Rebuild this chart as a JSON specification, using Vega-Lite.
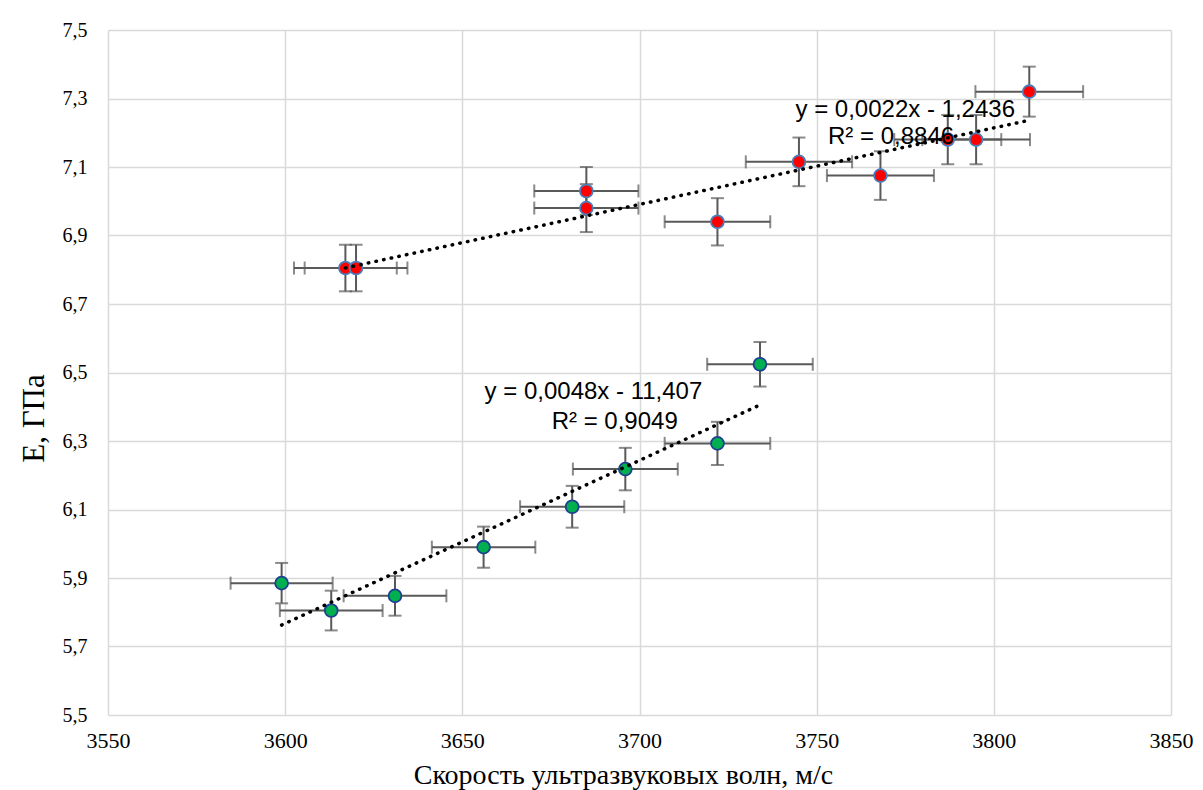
{
  "$schema": "https://vega.github.io/schema/vega-lite/v6.json",
  "width": 1063,
  "height": 685,
  "autosize": {"type": "none"},
  "padding": {"left": 108, "top": 30, "right": 32, "bottom": 75},
  "background": "#ffffff",
  "config": {
    "view": {"stroke": null},
    "font": "Liberation Serif"
  },
  "datasets": {
    "pts": [
      {"s": "red", "v": 3617, "E": 6.805, "ve": 14.5, "Ee": 0.068},
      {"s": "red", "v": 3620, "E": 6.805, "ve": 14.5, "Ee": 0.068},
      {"s": "red", "v": 3685, "E": 7.03, "ve": 14.7, "Ee": 0.070},
      {"s": "red", "v": 3685, "E": 6.98, "ve": 14.7, "Ee": 0.070},
      {"s": "red", "v": 3722, "E": 6.94, "ve": 14.9, "Ee": 0.069},
      {"s": "red", "v": 3745, "E": 7.115, "ve": 15.0, "Ee": 0.071},
      {"s": "red", "v": 3768, "E": 7.075, "ve": 15.1, "Ee": 0.071},
      {"s": "red", "v": 3787, "E": 7.18, "ve": 15.1, "Ee": 0.072},
      {"s": "red", "v": 3795, "E": 7.18, "ve": 15.2, "Ee": 0.072},
      {"s": "red", "v": 3810, "E": 7.32, "ve": 15.2, "Ee": 0.073},
      {"s": "green", "v": 3599, "E": 5.885, "ve": 14.4, "Ee": 0.059},
      {"s": "green", "v": 3613, "E": 5.805, "ve": 14.5, "Ee": 0.058},
      {"s": "green", "v": 3631, "E": 5.848, "ve": 14.5, "Ee": 0.058},
      {"s": "green", "v": 3656, "E": 5.99, "ve": 14.6, "Ee": 0.060},
      {"s": "green", "v": 3681, "E": 6.108, "ve": 14.7, "Ee": 0.061},
      {"s": "green", "v": 3696, "E": 6.218, "ve": 14.8, "Ee": 0.062},
      {"s": "green", "v": 3722, "E": 6.293, "ve": 14.9, "Ee": 0.063},
      {"s": "green", "v": 3734, "E": 6.524, "ve": 14.9, "Ee": 0.065}
    ],
    "labels": [
      {"t": "y = 0,0022x - 1,2436", "v": 3775, "E": 7.266},
      {"t": "R² = 0,8846", "v": 3771, "E": 7.188},
      {"t": "y = 0,0048x - 11,407", "v": 3687, "E": 6.443},
      {"t": "R² = 0,9049", "v": 3693, "E": 6.355}
    ]
  },
  "data": {"name": "pts"},
  "encoding": {
    "x": {
      "field": "v", "type": "quantitative",
      "scale": {"domain": [3550, 3850], "nice": false, "zero": false},
      "axis": {
        "values": [3550, 3600, 3650, 3700, 3750, 3800, 3850],
        "format": "d",
        "title": "Скорость ультразвуковых волн, м/с",
        "titleFont": "Liberation Serif", "titleFontSize": 28, "titleFontWeight": "normal",
        "titleColor": "#000000", "titleBaseline": "alphabetic", "titleY": 68, "titleX": 515,
        "labelFont": "Liberation Serif", "labelFontSize": 22, "labelColor": "#000000",
        "labelPadding": 15, "ticks": false, "domain": false,
        "grid": true, "gridColor": "#D9D9D9", "gridWidth": 1.5,
        "labelFlush": false
      }
    },
    "y": {
      "field": "E", "type": "quantitative",
      "scale": {"domain": [5.5, 7.5], "nice": false, "zero": false},
      "axis": {
        "values": [5.5, 5.7, 5.9, 6.1, 6.3, 6.5, 6.7, 6.9, 7.1, 7.3, 7.5],
        "labelExpr": "replace(format(datum.value, '.1f'), '.', ',')",
        "title": "E, ГПа",
        "titleFont": "Liberation Serif", "titleFontSize": 31, "titleFontWeight": "normal",
        "titleColor": "#000000", "titleAngle": -90, "titleBaseline": "alphabetic",
        "titleAlign": "center",
        "titleX": -65, "titleY": 388,
        "labelFont": "Liberation Serif", "labelFontSize": 20, "labelColor": "#000000",
        "labelPadding": 21, "ticks": false, "domain": false,
        "grid": true, "gridColor": "#D9D9D9", "gridWidth": 1.5,
        "labelFlush": false
      }
    }
  },
  "layer": [
    {
      "mark": {
        "type": "errorbar",
        "ticks": {"size": 13, "thickness": 2, "color": "#595959"},
        "rule": {"strokeWidth": 2, "color": "#595959"}
      },
      "encoding": {
        "x": {"field": "v", "type": "quantitative"},
        "xError": {"field": "ve"},
        "y": {"field": "E", "type": "quantitative"}
      }
    },
    {
      "mark": {
        "type": "errorbar",
        "ticks": {"size": 13, "thickness": 2, "color": "#595959"},
        "rule": {"strokeWidth": 2, "color": "#595959"}
      },
      "encoding": {
        "y": {"field": "E", "type": "quantitative"},
        "yError": {"field": "Ee"},
        "x": {"field": "v", "type": "quantitative"}
      }
    },
    {
      "mark": {"type": "point", "filled": true, "size": 165, "opacity": 1, "strokeWidth": 1.8},
      "encoding": {
        "fill": {"field": "s", "type": "nominal", "legend": null,
                 "scale": {"domain": ["red", "green"], "range": ["#FF0000", "#00B050"]}},
        "stroke": {"field": "s", "type": "nominal", "legend": null,
                   "scale": {"domain": ["red", "green"], "range": ["#4A7EBB", "#1F3F8F"]}}
      }
    },
    {
      "transform": [
        {"regression": "E", "on": "v", "groupby": ["s"]}
      ],
      "mark": {"type": "line", "color": "#000000", "strokeWidth": 3.5,
               "strokeDash": [0.5, 7.3], "strokeCap": "round"},
      "encoding": {
        "detail": {"field": "s", "type": "nominal"}
      }
    },
    {
      "data": {"name": "labels"},
      "mark": {"type": "text", "font": "Liberation Sans", "fontSize": 24,
               "color": "#000000", "align": "center", "baseline": "middle"},
      "encoding": {
        "text": {"field": "t"}
      }
    }
  ]
}
